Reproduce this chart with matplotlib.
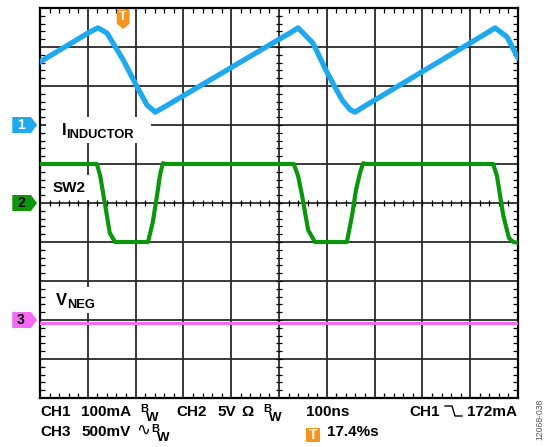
import matplotlib
matplotlib.use("Agg")
import matplotlib.pyplot as plt
import numpy as np
from matplotlib.patches import Polygon, Rectangle
from matplotlib.ticker import MultipleLocator
from matplotlib.lines import Line2D

plt.rcParams['font.family'] = ['Liberation Sans', 'DejaVu Sans']

# CH1: inductor current (ns, mA relative to marker)
t_ind = [0, 105, 121, 140, 174, 203, 224, 241, 257, 502, 523, 540, 571, 600,
         632, 649, 659, 676, 935, 952, 977, 1000]
i_ind = [162, 239, 249, 236, 167, 98, 51, 33, 44, 221, 236, 249, 210, 136,
         64, 39, 33, 46, 236, 249, 226, 172]

# CH2: SW2 (ns, V relative to marker)
t_sw = [0, 119, 126, 132, 138, 146, 157, 226, 236, 245, 251, 257, 264, 531,
        540, 548, 561, 575, 642, 653, 661, 670, 676, 683, 948, 956, 969, 981,
        990, 1000]
v_sw = [5.0, 5.0, 3.46, 1.28, -0.9, -3.85, -5.0, -5.0, -2.44, 1.03, 3.59, 5.1,
        5.0, 5.0, 3.46, 1.03, -3.46, -5.0, -5.0, -1.54, 1.67, 3.97, 5.1, 5.0,
        5.0, 3.46, -1.54, -4.49, -5.0, -5.1]

# CH3: VNEG (ns, mV relative to marker)
t_neg = [0, 1000]
v_neg = [-38, -38]

ch_scale = [100, 5, 500]      # per division
ch_marker = [7, 5, 2]         # marker position, divisions from bottom
trig_pos = 174                # ns

blue = '#1ea8f0'
green = '#0b960b'
pink = '#f56af5'
orange = '#f7941d'

fig = plt.figure(figsize=(5.59, 4.47), dpi=100)
ax = fig.add_axes([40/559, 49/447, 478/559, 390/447])
ax.set_xlim(0, 1000)
ax.set_ylim(0, 10)
ax.xaxis.set_major_locator(MultipleLocator(100))
ax.yaxis.set_major_locator(MultipleLocator(1))
ax.xaxis.set_minor_locator(MultipleLocator(20))
ax.yaxis.set_minor_locator(MultipleLocator(0.2))
ax.tick_params(which='both', direction='in', top=True, right=True,
               labelbottom=False, labelleft=False)
ax.tick_params(which='major', length=0)
ax.tick_params(which='minor', length=3.8, width=0.9, color='black')
ax.set_axisbelow(True)
ax.grid(True, which='major', color='#2a2a2a', lw=1.3)
for s in ax.spines.values():
    s.set_linewidth(1.6)
    s.set_color('black')

# center crosshair ticks
xm = np.arange(20, 1000, 20)
ym = np.arange(0.2, 10, 0.2)
ax.vlines(xm, 5 - 0.08, 5 + 0.08, color='black', lw=0.9, zorder=2)
ax.hlines(ym, 500 - 6, 500 + 6, color='black', lw=0.9, zorder=2)

# traces
ax.plot(t_ind, ch_marker[0] + np.array(i_ind) / ch_scale[0], color=blue,
        lw=3.8, solid_joinstyle='round', zorder=3)
ax.plot(t_sw, ch_marker[1] + np.array(v_sw) / ch_scale[1], color=green,
        lw=3.0, solid_joinstyle='round', zorder=3)
ax.plot(t_neg, ch_marker[2] + np.array(v_neg) / ch_scale[2], color=pink,
        lw=2.2, zorder=3)

# label boxes and labels
ax.add_patch(Rectangle((12, 6.55), 220, 0.66, facecolor='white', edgecolor='none', zorder=1.5))
ax.add_patch(Rectangle((12, 5.08), 107, 0.64, facecolor='white', edgecolor='none', zorder=1.5))
ax.add_patch(Rectangle((12, 2.18), 114, 0.67, facecolor='white', edgecolor='none', zorder=1.5))
ax.text(46, 6.75, 'I', fontsize=12, fontweight='bold', va='baseline', zorder=4)
ax.text(55, 6.67, 'INDUCTOR', fontsize=9.3, fontweight='bold', va='baseline', zorder=4)
ax.text(27, 5.29, 'SW2', fontsize=11, fontweight='bold', va='baseline', zorder=4)
ax.text(33, 2.39, 'V', fontsize=12, fontweight='bold', va='baseline', zorder=4)
ax.text(56, 2.31, 'NEG', fontsize=9.3, fontweight='bold', va='baseline', zorder=4)

# channel markers
for num, yc, col, tcol in [('1', ch_marker[0], blue, 'white'),
                           ('2', ch_marker[1], green, 'black'),
                           ('3', ch_marker[2], pink, 'black')]:
    h = 0.205
    ax.add_patch(Polygon([(-58, yc - h), (-19, yc - h), (-6, yc), (-19, yc + h), (-58, yc + h)],
                         closed=True, facecolor=col, edgecolor='none', clip_on=False))
    ax.text(-40, yc, num, color=tcol, fontsize=10, fontweight='bold',
            ha='center', va='center', clip_on=False)

# trigger marker
ax.add_patch(Polygon([(trig_pos - 13.5, 9.96), (trig_pos + 13.5, 9.96), (trig_pos + 13.5, 9.6),
                      (trig_pos, 9.46), (trig_pos - 13.5, 9.6)],
                     closed=True, facecolor=orange, edgecolor='none', zorder=5))
ax.text(trig_pos, 9.76, 'T', color='white', fontsize=9, fontweight='bold',
        ha='center', va='center', zorder=6)


def ftext(x, y, s, **kw):
    fig.text(x / 559, 1 - y / 447, s, va='baseline', **kw)


fs = 11
ftext(40, 416, 'CH1', fontsize=fs, fontweight='bold')
ftext(81, 416, '100mA', fontsize=fs, fontweight='bold')
ftext(140, 412, 'B', fontsize=8, fontweight='bold')
ftext(146, 421, 'W', fontsize=9.5, fontweight='bold')
ftext(176, 416, 'CH2', fontsize=fs, fontweight='bold')
ftext(217, 416, '5V', fontsize=fs, fontweight='bold')
ftext(241, 416, 'Ω', fontsize=fs, fontweight='bold')
ftext(263, 412, 'B', fontsize=8, fontweight='bold')
ftext(269, 421, 'W', fontsize=9.5, fontweight='bold')
ftext(306, 416, '100ns', fontsize=fs, fontweight='bold')
ftext(409, 416, 'CH1', fontsize=fs, fontweight='bold')
ftext(467, 416, '172mA', fontsize=fs, fontweight='bold')

ftext(40, 436, 'CH3', fontsize=fs, fontweight='bold')
ftext(81, 436, '500mV', fontsize=fs, fontweight='bold')
ftext(136, 435, '∿', fontsize=12)
ftext(151, 432, 'B', fontsize=8, fontweight='bold')
ftext(157, 441, 'W', fontsize=9.5, fontweight='bold')
fig.patches.append(Rectangle((306 / 559, 1 - 442 / 447), 14 / 559, 14 / 447,
                             transform=fig.transFigure, facecolor=orange, edgecolor='none'))
fig.text(313 / 559, 1 - 435 / 447, 'T', color='white', fontsize=10, fontweight='bold',
         ha='center', va='center')
ftext(327, 436, '17.4%s', fontsize=fs, fontweight='bold')

# falling edge symbol
ex = np.array([445, 452, 455, 462]) / 559
ey = 1 - np.array([406, 406, 416, 416]) / 447
fig.lines.append(Line2D(ex, ey, transform=fig.transFigure, color='black', lw=1.0))

fig.text(540 / 559, 1 - 419 / 447, '12068-038', rotation=90, fontsize=6.2,
         color='#555555', ha='center', va='center')

fig.savefig('out.png', dpi=100)
